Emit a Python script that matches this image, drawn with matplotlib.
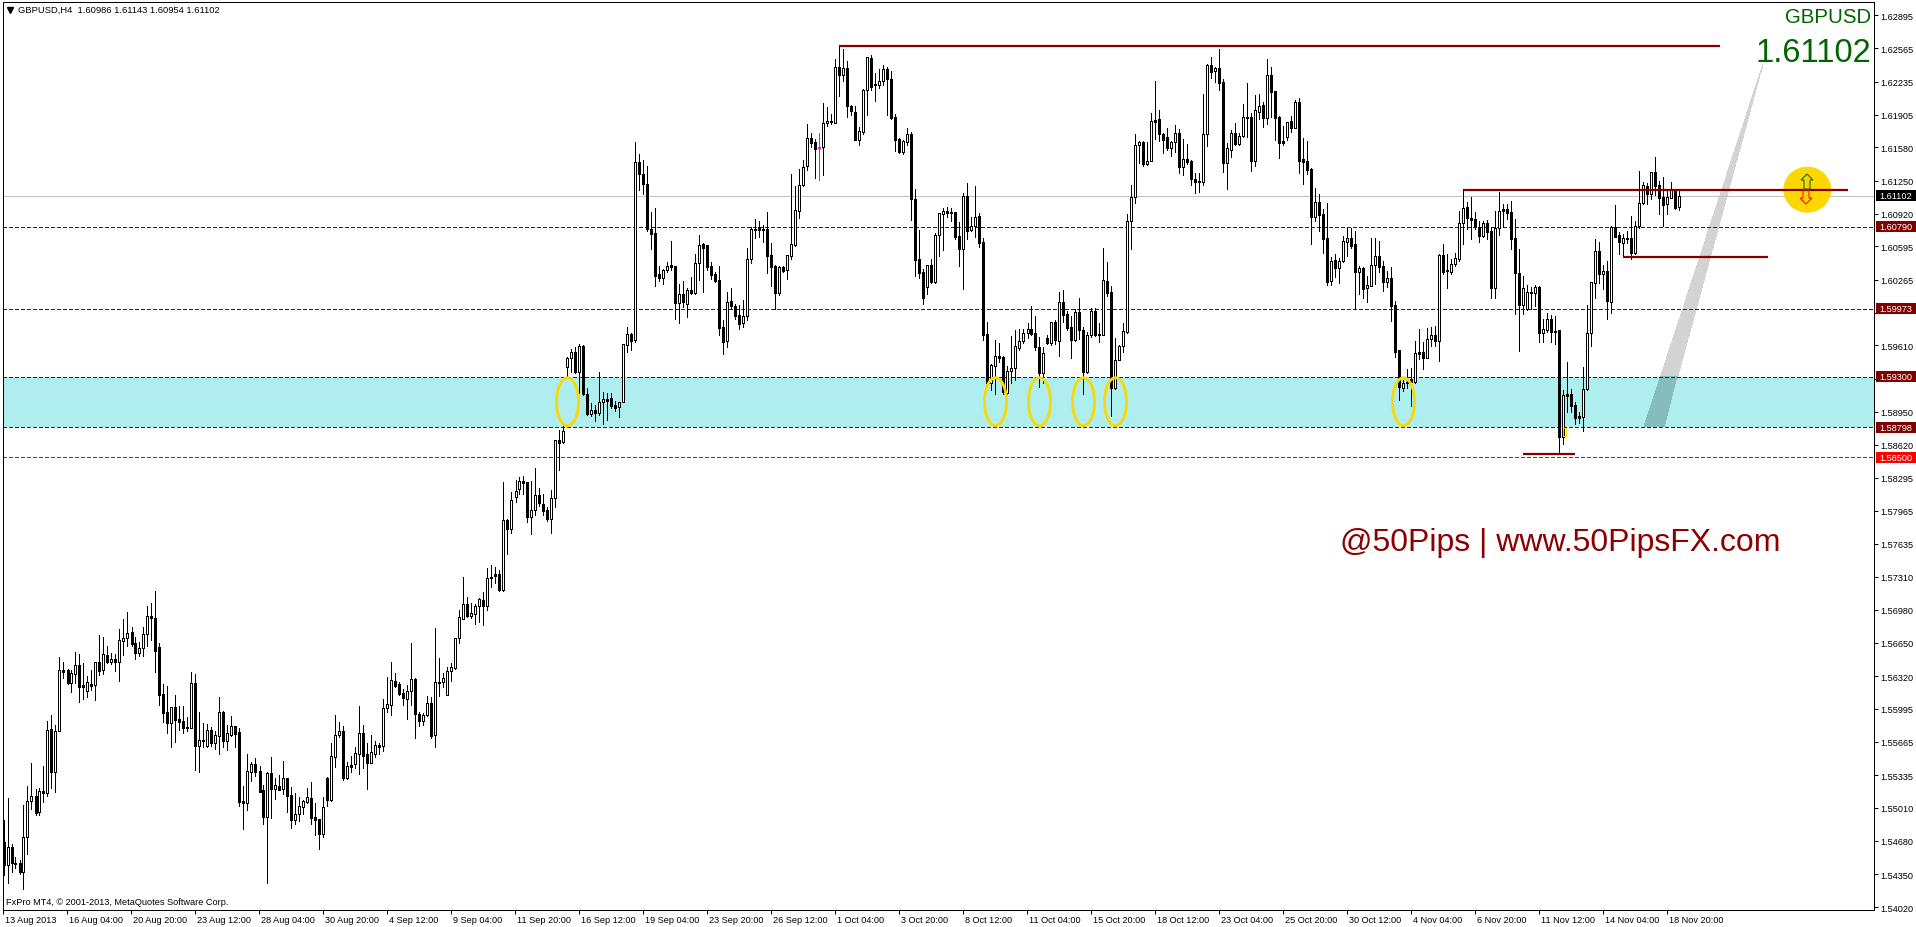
from matplotlib import pyplot as plt
from matplotlib.patches import Ellipse, Polygon, Rectangle
from matplotlib.transforms import Affine2D
import numpy as np

# 4h GBPUSD candles, prices in pips (1.61102 -> 16110.2)
opens = [
    15467,15444,15462,15446,15446,15437,15472,15508,15513,15497,
    15518,15516,15579,15537,15577,15638,15638,15625,15634,15643,
    15623,15617,15624,15623,15646,15638,15653,15646,15649,15646,
    15667,15670,15676,15665,15655,15660,15674,15692,15690,15661,
    15614,15596,15585,15601,15589,15587,15581,15580,15625,15562,
    15568,15562,15578,15565,15572,15596,15567,15573,15582,15576,
    15508,15506,15537,15545,15538,15519,15492,15536,15520,15523,
    15520,15531,15514,15489,15495,15502,15507,15511,15492,15490,
    15475,15531,15509,15552,15573,15577,15531,15544,15545,15554,
    15575,15554,15546,15554,15563,15562,15600,15603,15627,15624,
    15615,15609,15617,15629,15594,15587,15593,15605,15573,15626,
    15626,15613,15637,15640,15670,15689,15704,15692,15694,15702,
    15708,15702,15730,15734,15734,15718,15787,15778,15810,15818,
    15826,15825,15790,15797,15812,15803,15797,15788,15809,15867,
    15865,15940,15949,15954,15935,15960,15913,15893,15897,15894,
    15905,15908,15909,15902,15900,15905,15961,15972,15966,16144,
    16132,16122,16077,16073,16032,16028,16036,16041,16040,16003,
    16012,16002,16016,16013,16043,16062,16061,16040,16032,16026,
    15979,15965,16005,16000,15991,15983,15990,16047,16077,16079,
    16077,16077,16051,16040,16013,16039,16036,16050,16061,16095,
    16121,16140,16167,16163,16158,16158,16182,16183,16182,16238,
    16230,16237,16199,16193,16165,16173,16215,16247,16221,16220,
    16224,16236,16226,16188,16166,16153,16163,16171,16107,16047,
    16034,16019,16041,16024,16071,16092,16095,16094,16094,16070,
    16057,16110,16076,16080,16090,16064,15972,15924,15941,15951,
    15950,15914,15936,15939,15958,15965,15973,15977,15973,15959,
    15934,15968,15963,15984,15965,16004,15992,15979,15966,15994,
    15976,15935,15971,15995,15972,15971,16025,16014,15919,15947,
    15960,15974,16085,16109,16160,16163,16142,16145,16185,16186,
    16171,16168,16157,16163,16172,16139,16147,16145,16127,16125,
    16124,16171,16240,16234,16237,16223,16143,16155,16172,16161,
    16169,16188,16188,16145,16193,16200,16187,16230,16214,16188,
    16164,16168,16184,16177,16203,16147,16145,16137,16089,16104,
    16092,16068,16025,16046,16038,16045,16064,16068,16062,16034,
    16038,16018,16020,16041,16050,16040,16024,16028,16001,15956,
    15919,15925,15928,15925,15954,15954,15949,15967,15971,15965,
    16051,16036,16034,16042,16047,16083,16099,16088,16087,16079,
    16070,16083,16075,16018,16078,16097,16097,16094,16068,16033,
    16001,15997,16014,16013,16019,15973,15976,15987,15975,15976,
    15870,15913,15913,15902,15891,15890,15918,15973,16023,16055,
    16032,16035,16004,16079,16071,16063,16068,16068,16053,16080,
    16103,16120,16112,16134,16121,16109,16102,16108,16116,16098.6,
]
highs = [
    15489,15511,15465,15452,15449,15504,15523,15546,15520,15521,
    15543,15587,15593,15583,15651,15646,15639,15638,15656,15654,
    15645,15632,15638,15646,15673,15671,15662,15655,15654,15679,
    15689,15696,15681,15671,15666,15681,15702,15705,15717,15665,
    15624,15622,15601,15613,15602,15602,15591,15636,15634,15596,
    15585,15584,15581,15577,15611,15597,15583,15592,15582,15580,
    15523,15554,15547,15551,15543,15524,15537,15552,15531,15534,
    15548,15531,15522,15516,15512,15509,15521,15527,15506,15490,
    15512,15532,15565,15593,15586,15582,15547,15553,15561,15602,
    15583,15565,15573,15567,15565,15609,15631,15646,15635,15626,
    15619,15623,15665,15630,15596,15595,15612,15611,15680,15650,
    15635,15641,15645,15670,15698,15731,15711,15705,15704,15710,
    15716,15740,15743,15741,15738,15825,15788,15815,15827,15830,
    15831,15825,15826,15839,15819,15813,15800,15817,15867,15877,
    15881,15950,15957,15959,15962,15961,15919,15904,15902,15935,
    15915,15914,15914,15906,15905,15962,15979,15973,16163,16151,
    16146,16140,16094,16098,16040,16037,16044,16065,16040,16022,
    16025,16018,16029,16052,16071,16063,16061,16044,16034,16040,
    15986,16014,16018,16002,16001,16006,16058,16079,16087,16085,
    16081,16094,16063,16041,16040,16040,16051,16132,16120,16137,
    16146,16181,16172,16166,16172,16202,16198,16191,16246,16260,
    16256,16244,16200,16199,16178,16216,16248,16250,16232,16236,
    16240,16238,16234,16191,16167,16165,16177,16173,16117,16076,
    16037,16041,16047,16073,16093,16098,16099,16098,16094,16084,
    16113,16123,16089,16120,16093,16068,15984,15943,15966,15963,
    15951,15941,15970,15976,15977,15977,15983,16000,15990,15969,
    15959,15971,15984,15986,16014,16016,15995,15990,15997,16008,
    15979,15974,15998,15998,15983,16058,16044,16020,15968,15961,
    15983,16092,16121,16171,16164,16164,16163,16192,16224,16195,
    16172,16177,16164,16180,16176,16166,16161,16146,16133,16133,
    16211,16241,16248,16238,16256,16226,16162,16175,16182,16172,
    16201,16222,16192,16210,16211,16203,16246,16238,16214,16189,
    16179,16183,16189,16205,16207,16167,16164,16138,16118,16112,
    16097,16103,16049,16052,16048,16070,16078,16078,16075,16040,
    16039,16030,16068,16068,16065,16045,16035,16039,16005,15956,
    15927,15938,15939,15965,15977,15964,15978,15979,15980,16052,
    16062,16052,16047,16053,16095,16117,16104,16109,16094,16085,
    16085,16086,16079,16095,16114,16102,16102,16105,16087,16057,
    16030,16021,16019,16021,16020,15987,15993,15991,15990,15976,
    15917,15945,15918,15905,15895,15940,16001,16024,16067,16064,
    16041,16045,16080,16101,16074,16072,16075,16090,16085,16135,
    16124,16123,16134,16149,16125,16129,16117,16124,16116,16114.3,
]
lows = [
    15434,15426,15437,15441,15435,15420,15455,15500,15494,15494,
    15507,15513,15521,15517,15577,15630,15624,15616,15625,15606,
    15609,15611,15618,15608,15633,15634,15645,15644,15637,15627,
    15653,15662,15662,15649,15652,15652,15662,15668,15636,15603,
    15586,15575,15561,15566,15578,15575,15577,15580,15539,15537,
    15561,15561,15562,15559,15554,15561,15558,15572,15561,15503,
    15480,15499,15528,15533,15517,15485,15426,15491,15510,15519,
    15515,15497,15481,15485,15488,15495,15506,15485,15474,15460,
    15472,15503,15508,15542,15571,15529,15530,15537,15541,15535,
    15541,15520,15546,15552,15554,15557,15596,15593,15621,15613,
    15603,15589,15603,15570,15582,15583,15592,15570,15561,15612,
    15621,15613,15627,15639,15665,15689,15691,15690,15684,15686,
    15683,15698,15721,15725,15717,15717,15753,15774,15805,15813,
    15813,15785,15773,15792,15801,15792,15786,15774,15800,15837,
    15864,15930,15935,15934,15914,15912,15892,15891,15886,15892,
    15883,15887,15899,15896,15890,15905,15954,15956,15964,16116,
    16112,16075,16057,16020,16025,16022,16034,16036,15987,15983,
    15999,15989,16012,16012,16026,16014,16036,16027,16024,15971,
    15952,15959,15998,15987,15977,15979,15986,16043,16068,16069,
    16064,16033,16020,15997,16011,16034,16027,16047,16060,16088,
    16120,16136,16158,16128,16126,16131,16179,16181,16182,16209,
    16224,16188,16190,16165,16160,16171,16190,16215,16204,16217,
    16220,16190,16186,16154,16152,16151,16160,16086,16030,16028,
    16002,16012,16023,16023,16050,16056,16089,16085,16067,16040,
    16017,16067,16075,16069,16059,15966,15923,15917,15913,15945,
    15913,15913,15924,15927,15956,15963,15968,15971,15956,15920,
    15924,15962,15961,15962,15951,15984,15976,15949,15965,15967,
    15913,15934,15969,15970,15964,15971,16010,15891,15918,15947,
    15954,15973,16057,16103,16143,16140,16141,16145,16166,16164,
    16152,16155,16150,16153,16133,16131,16142,16121,16113,16114,
    16121,16159,16227,16223,16215,16134,16117,16149,16160,16160,
    16168,16168,16135,16140,16186,16178,16181,16188,16165,16148,
    16160,16165,16173,16177,16133,16122,16132,16062,16085,16075,
    16053,16021,16021,16029,16023,16044,16050,16058,15997,16012,
    16008,16004,16020,16022,16034,16015,16019,15985,15950,15907,
    15916,15919,15901,15924,15948,15938,15949,15960,15960,15946,
    16032,16018,16032,16040,16045,16062,16077,16067,16077,16064,
    16069,16067,16008,16008,16071,16079,16087,16057,15992,15955,
    15992,15996,15997,16000,15964,15964,15974,15964,15962,15853,
    15863,15895,15895,15883,15884,15876,15917,15960,16008,16023,
    16017,15987,15993,16069,16052,16050,16063,16047,16052,16078,
    16102,16102,16107,16111,16092,16080,16092,16108,16097,16095.4,
]
closes = [
    15444,15462,15446,15445,15437,15472,15508,15513,15496,15518,
    15516,15578,15537,15577,15638,15636,15625,15635,15643,15621,
    15621,15626,15622,15646,15637,15654,15646,15649,15646,15668,
    15670,15675,15664,15655,15660,15674,15692,15690,15657,15613,
    15595,15585,15601,15588,15586,15580,15580,15625,15562,15568,
    15567,15578,15565,15573,15596,15567,15575,15582,15574,15507,
    15506,15538,15545,15537,15517,15492,15536,15520,15524,15519,
    15531,15513,15489,15495,15503,15508,15512,15491,15489,15475,
    15502,15509,15553,15573,15577,15531,15543,15542,15555,15575,
    15553,15546,15556,15563,15561,15600,15604,15628,15622,15614,
    15610,15617,15629,15594,15587,15593,15605,15572,15626,15625,
    15630,15637,15641,15670,15691,15704,15692,15695,15702,15709,
    15702,15730,15731,15732,15718,15787,15778,15807,15816,15826,
    15824,15790,15797,15812,15804,15796,15788,15809,15867,15864,
    15876,15949,15954,15935,15960,15913,15893,15897,15894,15905,
    15908,15906,15901,15899,15905,15962,15972,15965,16144,16132,
    16122,16077,16072,16030,16028,16036,16040,16039,16003,16012,
    16004,16016,16013,16043,16061,16058,16039,16031,16025,15978,
    15964,16004,16000,15990,15982,15990,16047,16077,16076,16076,
    16076,16050,16039,16013,16039,16035,16051,16062,16096,16121,
    16139,16167,16162,16156,16157,16182,16184,16184,16238,16230,
    16237,16199,16194,16165,16174,16215,16248,16218,16220,16224,
    16236,16226,16187,16165,16153,16164,16171,16107,16046,16033,
    16008,16041,16024,16071,16093,16095,16093,16093,16069,16057,
    16110,16075,16080,16089,16063,15971,15924,15942,15951,15949,
    15915,15936,15939,15960,15965,15973,15977,15972,15959,15934,
    15953,15963,15984,15966,16004,15991,15978,15966,15994,15976,
    15935,15971,15995,15971,15971,16026,16013,15919,15947,15960,
    15975,16085,16109,16160,16163,16142,16145,16184,16183,16171,
    16165,16157,16163,16172,16139,16147,16144,16127,16124,16124,
    16171,16240,16233,16237,16222,16143,16157,16172,16161,16169,
    16188,16187,16145,16195,16199,16187,16230,16213,16187,16162,
    16162,16183,16177,16203,16145,16144,16136,16089,16104,16091,
    16067,16024,16045,16038,16045,16065,16068,16060,16034,16038,
    16017,16021,16041,16050,16039,16024,16028,16000,15954,15920,
    15924,15924,15925,15953,15952,15949,15967,15971,15965,16051,
    16034,16035,16042,16048,16083,16098,16088,16086,16079,16070,
    16083,16074,16018,16078,16095,16095,16093,16067,16033,16001,
    16018,16014,16013,16019,15973,15977,15987,15974,15974,15870,
    15912,15911,15901,15889,15889,15918,15973,16024,16055,16032,
    16035,16005,16079,16069,16064,16068,16067,16053,16080,16103,
    16121,16112,16134,16120,16108,16101,16109,16117,16098,16110.2,
]

date_labels = [
    "13 Aug 2013", "16 Aug 04:00", "20 Aug 20:00", "23 Aug 12:00", "28 Aug 04:00",
    "30 Aug 20:00", "4 Sep 12:00", "9 Sep 04:00", "11 Sep 20:00", "16 Sep 12:00",
    "19 Sep 04:00", "23 Sep 20:00", "26 Sep 12:00", "1 Oct 04:00", "3 Oct 20:00",
    "8 Oct 12:00", "11 Oct 04:00", "15 Oct 20:00", "18 Oct 12:00", "23 Oct 04:00",
    "25 Oct 20:00", "30 Oct 12:00", "4 Nov 04:00", "6 Nov 20:00", "11 Nov 12:00",
    "14 Nov 04:00", "18 Nov 20:00",
]
price_ticks = [
    1.62895, 1.62565, 1.62235, 1.61905, 1.61580, 1.61250, 1.60920, 1.60595, 1.60265,
    1.59935, 1.59610, 1.59280, 1.58950, 1.58620, 1.58295, 1.57965, 1.57635, 1.57310,
    1.56980, 1.56650, 1.56320, 1.55995, 1.55665, 1.55335, 1.55010, 1.54680, 1.54350,
    1.54020,
]
# these two scale labels sit fully behind the boxed level labels
covered_ticks = [1.59935, 1.59280]
level_prices = [1.60790, 1.59973, 1.59300, 1.58798, 1.58500]
level_colors = ["#800000", "#800000", "#800000", "#800000", "#FF0000"]
last_price = 1.61102
band = (1.58798, 1.59300)
# (first bar, last bar, price)
trend_lines = [
    (209, 429.2, 1.62590),
    (365.2, 461.2, 1.61159),
    (404.9, 441.2, 1.60492),
    (380, 393, 1.58530),
]
ellipse_bars = [141, 248, 259, 270, 278, 350]
ellipse_price = 1.59050
magenta_bar = 204

W, H = 1916, 928
LEFT, RIGHT, TOP, BOTTOM = 2.5, 1873.5, 2.5, 910.5
FONT = "Liberation Sans"
SMALL = 6.55
DARKRED = "#800000"
GOLD = "#FFD700"

plt.rcParams["font.family"] = FONT


def price_at(y):
    return (16289.5 - (y - 16.3) * 0.995) / 1e4


fig = plt.figure(figsize=(W / 100, H / 100), dpi=100)
ax = fig.add_axes([LEFT / W, 1 - BOTTOM / H, (RIGHT - LEFT) / W, (BOTTOM - TOP) / H])
ax.set_xlim((LEFT - 3.5) / 4, (RIGHT - 3.5) / 4)
ax.set_ylim(price_at(BOTTOM), price_at(TOP))

# reference picture pixels, y going down, for the overlay objects
px = Affine2D().scale(1, -1).translate(0, H)

o = np.array(opens) / 1e4
h = np.array(highs) / 1e4
l = np.array(lows) / 1e4
c = np.array(closes) / 1e4
x = np.arange(len(o))
up = c >= o
colors = np.array(["black"] * len(o), dtype=object)
colors[magenta_bar] = "#FF00FF"

ax.axhspan(band[0], band[1], facecolor="#AFEEEE", edgecolor="none", zorder=1)

# grey wedge, darker where it crosses the band
wedge = Polygon([(1763, 65), (1644, 428), (1664, 428)], closed=True, transform=px,
                facecolor="#D3D3D3", edgecolor="none", zorder=1.5, antialiased=False)
ax.add_patch(wedge)
ax.add_patch(Polygon([(1660.7, 377), (1677, 377), (1664, 428), (1644, 428)], closed=True,
                     transform=px, facecolor="#85BDBE", edgecolor="none", zorder=1.6,
                     antialiased=False))

ax.axhline(last_price, color="#C0C0C0", lw=0.72, zorder=2, antialiased=False)
for lev, col in zip(level_prices, level_colors):
    ax.axhline(lev, color=col, lw=0.72, dashes=(3.5, 2.2), zorder=2, antialiased=False)

ax.vlines(x, l, h, colors=list(colors), lw=0.72, zorder=3, antialiased=False)
bottoms = np.minimum(o, c)
heights = np.maximum(np.abs(c - o), 0.00003)
ax.bar(x[~up], heights[~up], bottom=bottoms[~up], width=0.5, color=list(colors[~up]),
       edgecolor=list(colors[~up]), lw=0.72, zorder=4, antialiased=False)
ax.bar(x[up], heights[up], bottom=bottoms[up], width=0.5, facecolor="white",
       edgecolor="black", lw=0.72, zorder=4, antialiased=False)

# small yellow mark on the candle after the November low
ax.add_patch(Rectangle((1563, 429), 3, 8, transform=px, facecolor="none", edgecolor=GOLD,
                       lw=0.72, zorder=5, antialiased=False))

for x0, x1, y in trend_lines:
    ax.plot([x0, x1], [y, y], color=DARKRED, lw=1.6, zorder=5, solid_capstyle="butt")

for b in ellipse_bars:
    ax.add_patch(Ellipse((b, ellipse_price), 22 / 4, 0.00478, facecolor="none",
                         edgecolor=GOLD, lw=2.0, zorder=6))

# yellow ball with the two hollow arrows
ax.add_patch(Ellipse((1807.3, 190.7), 48, 46, transform=px, facecolor=GOLD,
                     edgecolor="none", zorder=4.5))
ax.add_patch(Polygon([(1807, 175), (1813, 181), (1810, 181), (1810, 190), (1804, 190),
                      (1804, 181), (1801, 181)], closed=True, transform=px,
                     facecolor="none", edgecolor="#006400", lw=0.72, zorder=6))
ax.add_patch(Polygon([(1806, 205), (1812, 199), (1809, 199), (1809, 191), (1803, 191),
                      (1803, 199), (1800, 199)], closed=True, transform=px,
                     facecolor="none", edgecolor="#FF0000", lw=0.72, zorder=6))

# axes furniture
for s in ax.spines.values():
    s.set_linewidth(0.72)
    s.set_color("black")
ax.yaxis.tick_right()
ax.set_yticks(price_ticks)
ax.set_yticklabels(["" if p in covered_ticks else "%.5f" % p for p in price_ticks],
                   fontsize=SMALL)
ax.set_xticks(np.arange(len(date_labels)) * 16 - 0.1)
ax.set_xticklabels(date_labels, fontsize=SMALL, ha="left")
ax.tick_params(axis="y", length=3.0, width=0.72, pad=1.6)
ax.tick_params(axis="x", length=2.6, width=0.72, pad=1.4)
for lab in ax.get_xticklabels():
    lab.set_transform(lab.get_transform() + Affine2D().translate(1.5, 0))

# boxed price labels on the scale
for lev, col in zip(level_prices + [last_price], level_colors + ["black"]):
    y = ax.transData.transform((0, lev))[1]
    ax.add_patch(Rectangle((1876, H - y - 5.5), 40, 11, transform=px, facecolor=col,
                           edgecolor="none", clip_on=False, zorder=7))
    ax.text(1879.5, H - y, "%.5f" % lev, transform=px, color="white", fontsize=SMALL,
            va="center", ha="left", clip_on=False, zorder=8)

ax.plot([9.5], [10.7], marker="v", ms=4, color="black", transform=px, clip_on=False)
ax.text(17.5, 10.7, "GBPUSD,H4  1.60986 1.61143 1.60954 1.61102", transform=px,
        fontsize=6.72, va="center", ha="left")
ax.text(6.5, 902.7, "FxPro MT4, © 2001-2013, MetaQuotes Software Corp.", transform=px,
        fontsize=SMALL, va="center", ha="left")
ax.text(1871, 17.5, "GBPUSD", transform=px, fontsize=14.7, color="#006400", va="center",
        ha="right", zorder=8)
ax.text(1871, 53.5, "1.61102", transform=px, fontsize=23.5, color="#006400", va="center",
        ha="right", zorder=8)
ax.text(1340, 543, "@50Pips | www.50PipsFX.com", transform=px, fontsize=23,
        color="#8B0000", va="center", ha="left", zorder=8)

fig.savefig("out.png", dpi=100)
